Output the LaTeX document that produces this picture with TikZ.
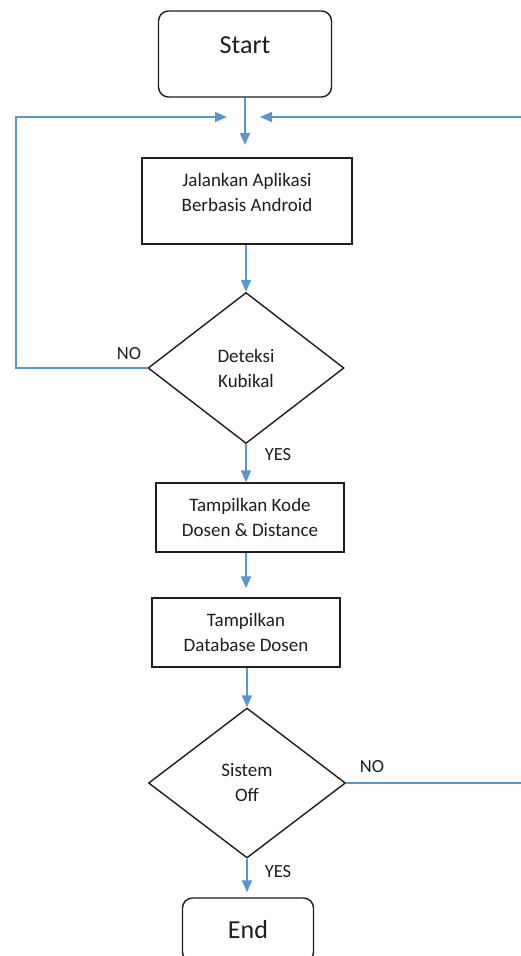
\documentclass[tikz,border=0pt]{standalone}
\usepackage{fontspec}
\setmainfont{Carlito}
\usetikzlibrary{arrows.meta,shapes.geometric}
\definecolor{flowblue}{RGB}{91,150,205}
\definecolor{edgeblack}{RGB}{30,30,30}
\begin{document}
\begin{tikzpicture}[x=1pt,y=-1pt,
  base/.style={draw=edgeblack,line width=1.4pt,text=edgeblack,inner sep=0pt,
    font=\fontsize{19}{25}\selectfont,align=center},
  term/.style={base,rounded corners=10pt,font=\fontsize{26}{30}\selectfont},
  procbox/.style={base,rectangle},
  decide/.style={base,diamond,aspect=1.3},
  lbl/.style={inner sep=0pt,text=edgeblack,font=\fontsize{18.5}{22}\selectfont},
  flow/.style={draw=flowblue,line width=1.8pt,-{Triangle[width=10pt,length=12pt]}}]
\clip (0,0) rectangle (521,956);
\fill[white] (0,0) rectangle (521,956);

\node[term,minimum width=173pt,minimum height=86pt,text depth=17pt] (start) at (245,54) {Start};
\node[procbox,minimum width=210pt,minimum height=86pt,text depth=17pt] (app) at (247,201) {Jalankan Aplikasi\\Berbasis Android};
\node[decide,minimum width=196pt,minimum height=151pt] (kub) at (246,368) {Deteksi\\Kubikal};
\node[procbox,minimum width=188pt,minimum height=69pt] (kode) at (250,517.5) {Tampilkan Kode\\Dosen \& Distance};
\node[procbox,minimum width=188pt,minimum height=69pt] (db) at (246,632.5) {Tampilkan\\Database Dosen};
\node[decide,minimum width=197pt,minimum height=150pt] (off) at (247,783) {Sistem\\Off};
\node[term,minimum width=131pt,minimum height=64pt] (end) at (248,930) {End};

\coordinate (merge) at (245,145);
\coordinate (ltip) at (227,117);
\coordinate (rtip) at (260,117);
\coordinate (lcorner) at (16,368);
\coordinate (ltop) at (16,117);
\coordinate (rcorner) at (524,783);
\coordinate (rtop) at (524,117);

\draw[flow] (start.south) -- (merge);
\draw[flow] (kub.west) -- (lcorner) -- (ltop) -- (ltip);
\draw[flow] (off.east) -- (rcorner) -- (rtop) -- (rtip);
\draw[flow] (app.south -| kub.north) -- (kub.north);
\draw[flow] (kub.south) -- (kub.south |- kode.north);
\draw[flow,shorten >=9pt] (kode.south -| db.north) -- (db.north);
\draw[flow] (db.south -| off.north) -- (off.north);
\draw[flow,shorten >=5pt] (off.south) -- (off.south |- end.north);

\node[lbl] (no1) at (129,354) {NO};
\node[lbl] (yes1) at (278,455) {YES};
\node[lbl] (no2) at (372,767) {NO};
\node[lbl] (yes2) at (278,872) {YES};
\end{tikzpicture}
\end{document}
